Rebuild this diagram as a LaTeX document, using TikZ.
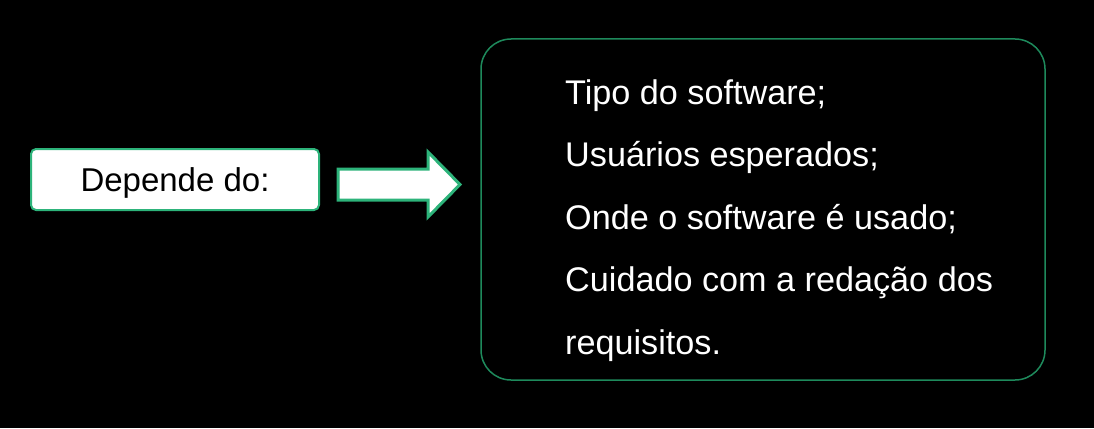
\documentclass[tikz,border=0pt]{standalone}
\usepackage{fontspec}
\setmainfont{Liberation Sans}
\definecolor{boxgreen}{HTML}{2DB37A}
\definecolor{framegreen}{HTML}{1E8A5C}
\begin{document}
\begin{tikzpicture}[x=1pt,y=-1pt,
  txt/.style={anchor=base west,inner sep=0pt,font=\fontsize{34.2}{40}\selectfont,text=white},
  lbox/.style={draw=boxgreen,line width=2pt,fill=white,rounded corners=5pt},
  bigframe/.style={draw=framegreen,line width=1.5pt,rounded corners=30pt},
  blockarrow/.style={draw=boxgreen,line width=3pt,fill=white,line join=miter}]
\fill[black] (0,0) rectangle (1094,428);
\useasboundingbox (0,0) rectangle (1094,428);
% left label box
\draw[lbox] (31,149) rectangle (319,210);
\node[anchor=base,inner sep=0pt,font=\fontsize{33}{40}\selectfont,text=black] (dep) at (175,191) {Depende do:};
% block arrow
\draw[blockarrow] (338,169) -- (428,169) -- (428,152) -- (460,184.5) -- (428,217) -- (428,200) -- (338,200) -- cycle;
\coordinate (tip) at (460,184.5);
% right frame
\draw[bigframe] (481,39) rectangle (1045,380);
\node[txt] (l1) at (565,104) {Tipo do software;};
\node[txt] (l2) at (565,166.5) {Usuários esperados;};
\node[txt] (l3) at (565,229) {Onde o software é usado;};
\node[txt] (l4) at (565,291.5) {Cuidado com a redação dos};
\node[txt] (l5) at (565,354) {requisitos.};
\end{tikzpicture}
\end{document}
